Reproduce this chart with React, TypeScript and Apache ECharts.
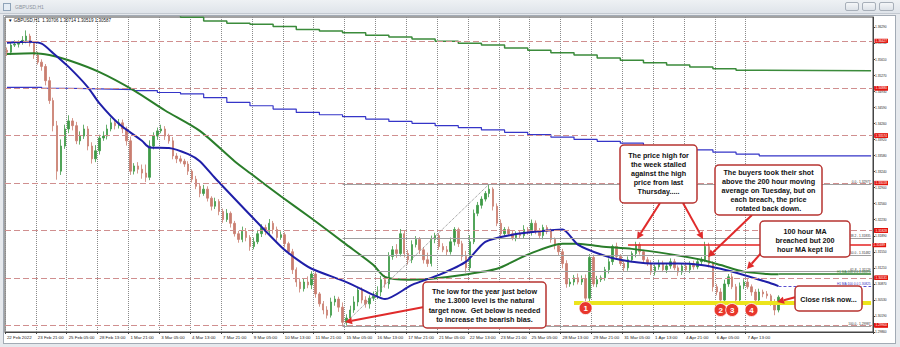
import React, { useEffect, useRef } from "react";
import * as echarts from "echarts";

// ---------- data ----------
const xTickLabels = [
  "22 Feb 2022", "23 Feb 21:00", "25 Feb 05:00", "28 Feb 13:00", "1 Mar 21:00",
  "3 Mar 05:00", "4 Mar 13:00", "7 Mar 21:00", "9 Mar 05:00", "10 Mar 13:00",
  "11 Mar 21:00", "15 Mar 05:00", "16 Mar 13:00", "17 Mar 21:00", "21 Mar 05:00",
  "22 Mar 13:00", "23 Mar 21:00", "25 Mar 05:00", "28 Mar 13:00", "29 Mar 21:00",
  "31 Mar 05:00", "1 Apr 13:00", "4 Apr 21:00", "6 Apr 05:00", "7 Apr 13:00",
];
const CATEGORY_COUNT = 225; // 4-hour slots incl. right chart shift
const LABEL_EVERY = 8;

const firstOpen = 1.358;
const closes = [
  1.3576, 1.3591, 1.3593, 1.3597, 1.3601, 1.361, 1.3595, 1.357, 1.3555, 1.3546,
  1.3516, 1.3474, 1.3421, 1.3325, 1.3378, 1.3414, 1.3431, 1.3421, 1.3389, 1.3399,
  1.3414, 1.3378, 1.3351, 1.3368, 1.3395, 1.3399, 1.3414, 1.3427, 1.3421, 1.3427,
  1.3414, 1.3389, 1.3325, 1.3336, 1.3329, 1.3321, 1.3312, 1.3378, 1.3399, 1.341,
  1.3414, 1.3399, 1.3389, 1.3357, 1.3351, 1.3346, 1.334, 1.3325, 1.3308, 1.3293,
  1.3278, 1.3287, 1.3268, 1.3251, 1.3261, 1.324, 1.3223, 1.3236, 1.3215, 1.3193,
  1.3181, 1.3198, 1.3185, 1.3166, 1.3176, 1.3193, 1.3206, 1.3198, 1.3215, 1.3202,
  1.3185, 1.3191, 1.3172, 1.3155, 1.3117, 1.3091, 1.3077, 1.3091, 1.3085, 1.3108,
  1.3066, 1.3045, 1.3032, 1.3021, 1.3049, 1.3055, 1.3038, 1.3006, 1.3015, 1.3032,
  1.3049, 1.3074, 1.3053, 1.3045, 1.3057, 1.3062, 1.307, 1.3096, 1.3087, 1.3145,
  1.3159, 1.3151, 1.3193, 1.3151, 1.3138, 1.317, 1.3181, 1.3159, 1.3138, 1.313,
  1.3181, 1.3189, 1.3166, 1.3159, 1.3155, 1.3176, 1.3202, 1.3172, 1.3145, 1.3121,
  1.3176, 1.3236, 1.3253, 1.3266, 1.3278, 1.3287, 1.3251, 1.3215, 1.3193, 1.3202,
  1.3193, 1.3185, 1.3193, 1.3189, 1.3202, 1.3196, 1.3215, 1.3198, 1.3189, 1.3206,
  1.3198, 1.3181, 1.3168, 1.3155, 1.313, 1.3087, 1.3091, 1.31, 1.3091, 1.3098,
  1.3057, 1.3143, 1.3087, 1.3096, 1.31, 1.3117, 1.3134, 1.3166, 1.3145, 1.313,
  1.3121, 1.3138, 1.3151, 1.317, 1.3155, 1.3138, 1.313, 1.3112, 1.3123, 1.313,
  1.3117, 1.3125, 1.3134, 1.3121, 1.3112, 1.3125, 1.3117, 1.313, 1.3123, 1.3134,
  1.3138, 1.3166, 1.313, 1.3081, 1.307, 1.3053, 1.3087, 1.3102, 1.3081, 1.3053,
  1.3083, 1.3091, 1.3081, 1.307, 1.3053, 1.307, 1.3066, 1.3062, 1.3049, 1.3032,
  1.3059,
];
// wick lengths in pips above max(open,close) / below min(open,close)
const wickUp = [
  6, 5, 8, 4, 9, 12, 5, 4, 7, 6, 5, 8, 6, 10, 14, 9, 12, 6, 8, 10,
  9, 6, 8, 12, 7, 10, 9, 11, 6, 8, 7, 5, 9, 6, 8, 10, 18, 12, 8, 7,
  9, 6, 5, 8, 6, 7, 5, 6, 4, 7, 5, 9, 6, 4, 8, 5, 6, 9, 4, 5,
  6, 10, 7, 5, 9, 8, 7, 6, 9, 5, 6, 7, 5, 4, 6, 5, 8, 7, 12, 6,
  5, 4, 6, 8, 9, 7, 5, 10, 8, 9, 12, 7, 6, 8, 6, 9, 12, 8, 10, 9,
  8, 12, 10, 6, 8, 9, 7, 5, 6, 15, 8, 6, 5, 7, 8, 9, 5, 4, 6, 12,
  14, 8, 7, 6, 5, 11, 4, 6, 8, 5, 6, 7, 5, 6, 9, 5, 8, 6, 7, 6,
  5, 6, 4, 5, 6, 7, 8, 6, 9, 7, 9, 7, 6, 8, 5, 6, 7, 4, 8, 5,
  6, 7, 5, 6, 5, 4, 6, 7, 5, 8, 6, 5, 7, 6, 5, 6, 8, 5, 6, 7,
  6, 10, 8, 5, 6, 8, 9, 6, 7, 6, 7, 6, 8, 5, 6, 7, 5, 6, 4, 6,
  4,
];
const wickDown = [
  8, 6, 4, 7, 5, 6, 7, 8, 5, 9, 10, 7, 12, 18, 8, 6, 9, 10, 7, 8,
  6, 9, 10, 7, 8, 6, 7, 5, 8, 6, 9, 10, 8, 7, 9, 12, 10, 6, 7, 8,
  5, 8, 6, 7, 9, 5, 6, 8, 7, 6, 8, 5, 7, 9, 6, 8, 7, 5, 9, 6,
  7, 6, 8, 9, 6, 5, 7, 8, 6, 9, 7, 5, 8, 6, 9, 10, 8, 6, 7, 9,
  8, 6, 9, 7, 5, 8, 10, 6, 7, 5, 6, 9, 7, 8, 10, 6, 7, 9, 8, 10,
  7, 9, 6, 8, 10, 7, 6, 9, 8, 7, 6, 8, 7, 5, 9, 6, 8, 7, 9, 10,
  8, 5, 6, 7, 5, 8, 9, 6, 7, 6, 5, 6, 8, 7, 6, 5, 7, 6, 5, 8,
  6, 7, 8, 9, 10, 8, 6, 7, 5, 6, 8, 9, 6, 7, 5, 6, 8, 7, 6, 5,
  7, 6, 5, 8, 6, 7, 5, 6, 7, 6, 5, 7, 6, 5, 8, 6, 5, 7, 6, 5,
  6, 5, 8, 10, 7, 6, 8, 6, 5, 9, 6, 7, 5, 8, 6, 5, 7, 6, 8, 11,
  5,
];

const ma100H1: [number, number][] = [
  [0, 1.3596], [6, 1.3598], [9, 1.3594], [12, 1.3574], [16, 1.3545], [21, 1.3502],
  [24, 1.3468], [29, 1.3425], [35, 1.3389], [37, 1.3375], [42, 1.3374], [47, 1.3361],
  [50, 1.3346], [54, 1.331], [71, 1.3166], [75, 1.314], [79, 1.3119], [88, 1.3091],
  [95, 1.3064], [98, 1.3055], [105, 1.3085], [112, 1.3106], [119, 1.3134], [124, 1.3176],
  [131, 1.3191], [138, 1.3198], [144, 1.3202], [148, 1.317], [154, 1.3149], [159, 1.3138],
  [167, 1.313], [174, 1.313], [180, 1.3127], [185, 1.3119], [191, 1.3106], [197, 1.3091],
  [200, 1.30825],
];
const ma200H1: [number, number][] = [
  [0, 1.3572], [7, 1.3574], [11, 1.357], [16, 1.3559], [24, 1.3534], [33, 1.3495],
  [41, 1.3453], [50, 1.341], [59, 1.3346], [63, 1.3321], [71, 1.3272], [79, 1.3225],
  [88, 1.317], [95, 1.3127], [98, 1.3102], [104, 1.3096], [110, 1.3098], [118, 1.3106],
  [127, 1.3119], [135, 1.3149], [144, 1.3172], [148, 1.3172], [154, 1.3166], [162, 1.3161],
  [171, 1.3151], [180, 1.3138], [185, 1.3127], [191, 1.3113], [197, 1.3108], [200, 1.31075],
];
const ma100D1: [number, number][] = [
  [0, 1.3502], [9, 1.35], [15, 1.3499], [21, 1.3498], [27, 1.3497], [33, 1.3495],
  [39, 1.3491], [45, 1.3488], [51, 1.348], [57, 1.347], [63, 1.3463], [69, 1.3456],
  [75, 1.3449], [81, 1.3444], [87, 1.344], [93, 1.3435], [99, 1.343], [105, 1.3426],
  [111, 1.3421], [117, 1.3417], [123, 1.3412], [129, 1.3407], [135, 1.3402], [141, 1.3397],
  [147, 1.3392], [153, 1.3388], [159, 1.3384], [165, 1.3378], [171, 1.3374], [177, 1.337],
  [183, 1.3365], [189, 1.3361], [195, 1.33574], [224, 1.33574],
];
const ma200D1: [number, number][] = [
  [39, 1.366], [45, 1.365], [51, 1.3642], [57, 1.3637], [63, 1.3635], [69, 1.363],
  [75, 1.3624], [81, 1.3621], [87, 1.3617], [93, 1.3612], [99, 1.3608], [105, 1.3604],
  [111, 1.3599], [117, 1.3595], [123, 1.3591], [129, 1.3585], [135, 1.358], [141, 1.3575],
  [147, 1.357], [153, 1.3564], [159, 1.3559], [165, 1.3554], [171, 1.3549], [177, 1.3545],
  [183, 1.3541], [189, 1.3538], [195, 1.35368], [224, 1.35368],
];

const levelPrices = [
  1.36427, 1.35368, 1.34936, 1.3488, 1.3429, 1.3421, 1.33574, 1.33156, 1.33018,
  1.32401, 1.32295, 1.3221, 1.32125, 1.31913, 1.31828, 1.30935, 1.30595, 1.30531,
  1.30446, 1.30234, 1.30085, 1.30021, 1.299,
];
const weekHigh = 1.31689;
const weekHighStart = 161;
const supportZone = 1.3047;
const supportStart = 147;
const h1Ma200Last = 1.31075;
const h1Ma100Last = 1.30825;
const fibNames = ["0.0", "38.2", "50.0", "61.8", "100.0"];
const fibValues = [1.32977, 1.31835, 1.31482, 1.31129, 1.29987];
const fibStart = 87;
const fibEnd = 125;
const markerNames = ["1", "2", "3", "4"];
const markerIdx = [150, 185, 188, 193];
const markerPrice = [1.3036, 1.3032, 1.3032, 1.3032];

const yMin = 1.29856;
const yMax = 1.36503;
const yInterval = 0.003385;

// ---------- helpers ----------
const RED = "#e02b2b";
function arrow(x1: number, y1: number, x2: number, y2: number) {
  const dx = x2 - x1, dy = y2 - y1;
  const len = Math.hypot(dx, dy);
  const ux = dx / len, uy = dy / len;
  const hl = 7, hw = 3.6;
  const bx = x2 - ux * hl, by = y2 - uy * hl;
  return [
    { type: "line", z: 100, silent: true, shape: { x1, y1, x2: bx, y2: by }, style: { stroke: RED, lineWidth: 2 } },
    {
      type: "polygon", z: 100, silent: true,
      shape: { points: [[x2, y2], [bx - uy * hw, by + ux * hw], [bx + uy * hw, by - ux * hw]] },
      style: { fill: RED },
    },
  ];
}
function box(x: number, y: number, w: number, h: number, text: string, top: number, lh: number) {
  return [
    { type: "rect", z: 101, silent: true, shape: { x, y, width: w, height: h, r: 4 }, style: { fill: "#fff", stroke: "#b73330", lineWidth: 1.5 } },
    {
      type: "text", z: 102, silent: true, x: x + w / 2, y: top,
      style: {
        text, fill: "#111", font: 'bold 7.2px "Liberation Sans", Arial, sans-serif',
        align: "center", verticalAlign: "top", textAlign: "center", textVerticalAlign: "top", lineHeight: lh,
      },
    },
  ];
}

const tagLabel = (p: number) => ({
  show: true, position: "end", distance: 1.5, formatter: p.toFixed(5), color: "#fff",
  backgroundColor: "#e3120b", fontSize: 3.2, padding: [0.6, 1], fontFamily: "Liberation Sans",
});

export default function App() {
  const ref = useRef<HTMLDivElement>(null);
  useEffect(() => {
    if (!ref.current) return;
    const chart = echarts.init(ref.current, null, { renderer: "svg", width: 900, height: 347 });
    const categories = Array.from({ length: CATEGORY_COUNT }, (_, i) => String(i));
    const candles = closes.map((c, i) => {
      const o = i === 0 ? firstOpen : closes[i - 1];
      const hi = Math.max(o, c) + wickUp[i] / 10000;
      const lo = Math.min(o, c) - wickDown[i] / 10000;
      return [o, c, lo, hi];
    });
    const lastIdx = CATEGORY_COUNT - 1;
    const showTick = (i: number) => i % LABEL_EVERY === 0 && i / LABEL_EVERY < xTickLabels.length;

    const markLineData: any[] = [];
    levelPrices.forEach((p) => {
      markLineData.push({ yAxis: p, lineStyle: { color: "#d08f8f", type: [6, 3], width: 1.2 }, label: tagLabel(p) });
    });
    fibValues.forEach((v, k) => {
      markLineData.push([
        {
          coord: [fibStart, v], lineStyle: { color: "#a0a0a0", width: 1, type: "solid" },
          label: { show: true, position: "insideEndTop", distance: 0.5, formatter: `${fibNames[k]} - ${v.toFixed(5)}`, fontSize: 3.2, color: "#333", fontFamily: "Liberation Sans" },
        },
        { coord: [lastIdx, v] },
      ]);
    });
    markLineData.push([
      { coord: [fibStart, fibValues[4]], lineStyle: { color: "#8a8a8a", width: 1, type: "dotted" }, label: { show: false } },
      { coord: [fibEnd, fibValues[0]] },
    ]);
    markLineData.push([
      { coord: [weekHighStart, weekHigh], lineStyle: { color: "#e52222", width: 1.5, type: "solid" }, label: tagLabel(weekHigh) },
      { coord: [lastIdx, weekHigh] },
    ]);
    markLineData.push([
      { coord: [supportStart, supportZone], lineStyle: { color: "#ece41c", width: 4, type: "solid" }, label: { show: false } },
      { coord: [lastIdx, supportZone] },
    ]);
    const maLabel = (text: string, color: string) => ({
      show: true, position: "insideEndTop", distance: 0.5, formatter: text, fontSize: 3.2, color, fontFamily: "Liberation Sans",
    });
    markLineData.push([
      { coord: [195, 1.35368], lineStyle: { opacity: 0 }, label: maLabel("D1 MA:200 0.0 1.35368", "#2f7f2f") },
      { coord: [lastIdx, 1.35368] },
    ]);
    markLineData.push([
      { coord: [195, 1.33574], lineStyle: { opacity: 0 }, label: maLabel("D1 MA:100 0.0 1.33574", "#3030c0") },
      { coord: [lastIdx, 1.33574] },
    ]);
    markLineData.push([
      { coord: [200, h1Ma200Last], lineStyle: { color: "#2a7d2a", width: 1.5, type: "solid" }, label: maLabel("H1 MA:200 0.0 " + h1Ma200Last.toFixed(5), "#2a7d2a") },
      { coord: [lastIdx, h1Ma200Last] },
    ]);
    markLineData.push([
      { coord: [200, h1Ma100Last], lineStyle: { color: "#5a4fd0", width: 1.2, type: [3, 2] }, label: maLabel("H1 MA:100 0.0 " + h1Ma100Last.toFixed(5), "#3030c0") },
      { coord: [lastIdx, h1Ma100Last] },
    ]);
    markLineData.push({ yAxis: h1Ma200Last, lineStyle: { opacity: 0 }, label: tagLabel(h1Ma200Last) });
    markLineData.push({ yAxis: h1Ma100Last, lineStyle: { opacity: 0 }, label: tagLabel(h1Ma100Last) });

    const lineBase = { type: "line", symbol: "none", silent: true, animation: false };

    const graphic: any[] = [
      {
        type: "text", z: 50, silent: true, x: 8, y: 18,
        style: { text: "▼ GBPUSD,H1  1.30706 1.30714 1.30519 1.30587", fill: "#111", font: '4.5px "Liberation Sans", sans-serif', verticalAlign: "top", textVerticalAlign: "top" },
      },
      ...arrow(424, 307, 345, 322),
      ...arrow(660, 203, 637, 239),
      ...arrow(683, 203, 703, 239),
      ...arrow(752, 215, 708, 257),
      ...arrow(762, 252, 747, 269),
      ...arrow(796, 297, 777, 302),
      ...box(423, 282, 123, 46, "The low for the year just below\nthe 1.3000 level is the natural\ntarget now.  Get below is needed\nto increase the bearish bias.", 287, 9.2),
      ...box(620, 145, 77, 58, "The price high for\nthe week stalled\nagainst the high\nprice from last\nThursday.....", 150.5, 9),
      ...box(715, 165, 107, 50, "The buyers took their shot\nabove the 200 hour moving\naverage on Tuesday, but on\neach breach, the price\nrotated back down.", 168.5, 8.8),
      ...box(760, 221, 90, 36, "100 hour MA\nbreached but 200\nhour MA kept lid", 226.5, 9),
      ...box(795, 286, 67, 25, "Close risk now...", 294.5, 9),
    ];

    chart.setOption({
      animation: false,
      grid: { left: 5, top: 17, right: 27, bottom: 15, show: true, borderColor: "#444", borderWidth: 1, backgroundColor: "#fff" },
      xAxis: {
        type: "category", data: categories, boundaryGap: true,
        axisLine: { show: true, lineStyle: { color: "#444" } },
        axisTick: { show: true, interval: (i: number) => showTick(i), length: 2, lineStyle: { color: "#444" } },
        axisLabel: {
          interval: (i: number) => showTick(i),
          formatter: (_v: string, i: number) => xTickLabels[i / LABEL_EVERY] ?? "",
          fontSize: 4.4, color: "#222", margin: 3, align: "left", fontFamily: "Liberation Sans",
        },
        splitLine: { show: true, interval: (i: number) => showTick(i), lineStyle: { color: "#8a8a8a", type: "dotted", width: 1 } },
      },
      yAxis: {
        type: "value", position: "right", min: yMin, max: yMax, interval: yInterval,
        axisLine: { show: true, lineStyle: { color: "#444" } },
        axisTick: { show: true, length: 2, lineStyle: { color: "#444" } },
        splitLine: { show: false },
        axisLabel: {
          fontSize: 3.2, color: "#222", margin: 2, showMaxLabel: false, fontFamily: "Liberation Sans",
          formatter: (v: number) => v.toFixed(4) + "0",
        },
      },
      graphic,
      series: [
        { ...lineBase, name: "D1 MA200", data: ma200D1, step: "end", z: 2, lineStyle: { color: "#3b8b3b", width: 1.5 } },
        { ...lineBase, name: "D1 MA100", data: ma100D1, step: "end", z: 2, lineStyle: { color: "#3535c8", width: 1.2 } },
        {
          type: "candlestick", name: "GBPUSD", data: candles, z: 3, barMaxWidth: 2.8, silent: true,
          itemStyle: { color: "#3f9a47", color0: "#c97d70", borderColor: "#3f9a47", borderColor0: "#c97d70", borderWidth: 0.8 },
          markLine: { silent: true, symbol: ["none", "none"], animation: false, data: markLineData },
          markPoint: {
            silent: true, animation: false, symbol: "circle", symbolSize: 13,
            itemStyle: { color: "#e8372c", borderColor: "#fff", borderWidth: 0.8 },
            label: { show: true, formatter: "{b}", color: "#fff", fontWeight: "bold", fontSize: 8, fontFamily: "Liberation Sans" },
            data: markerNames.map((n, k) => ({ name: n, coord: [markerIdx[k], markerPrice[k]] })),
          },
        },
        { ...lineBase, name: "H1 MA200", data: ma200H1, smooth: 0.25, z: 4, lineStyle: { color: "#2a7d2a", width: 2 } },
        { ...lineBase, name: "H1 MA100", data: ma100H1, smooth: 0.25, z: 4, lineStyle: { color: "#1f1fa8", width: 2 } },
      ],
    });
    return () => chart.dispose();
  }, []);

  const btn = (left: number, w: number): React.CSSProperties => ({
    position: "absolute", left, top: 2, width: w, height: 9, boxSizing: "border-box",
    border: "1px solid #a7afb9", borderRadius: 2, background: "linear-gradient(#f4f6f8,#dde2e8)",
  });

  return (
    <div style={{ position: "fixed", left: 0, top: 0, width: 900, height: 347, background: "#e6e9ed", overflow: "hidden" }}>
      <div style={{ position: "absolute", left: 0, top: 0, width: 900, height: 14, background: "linear-gradient(#eef1f4,#dfe4ea)", borderBottom: "1px solid #c3c9d1", boxSizing: "border-box" }} />
      <div style={{ position: "absolute", left: 3, top: 3, width: 8, height: 8, boxSizing: "border-box", border: "1px solid #8fa3b8", background: "#e4ecf4" }} />
      <div style={{ position: "absolute", left: 15, top: 3, fontFamily: "Liberation Sans, sans-serif", fontSize: 5, color: "#8d939c", lineHeight: "8px" }}>GBPUSD,H1</div>
      <div style={btn(845, 14)} />
      <div style={btn(862, 14)} />
      <div style={btn(879, 15)} />
      <div style={{ position: "absolute", left: 3, top: 15, width: 893, height: 329, background: "#fff", border: "1px solid #a3abb5", boxSizing: "border-box" }} />
      <div ref={ref} style={{ position: "absolute", left: 0, top: 0, width: 900, height: 347 }} />
    </div>
  );
}
